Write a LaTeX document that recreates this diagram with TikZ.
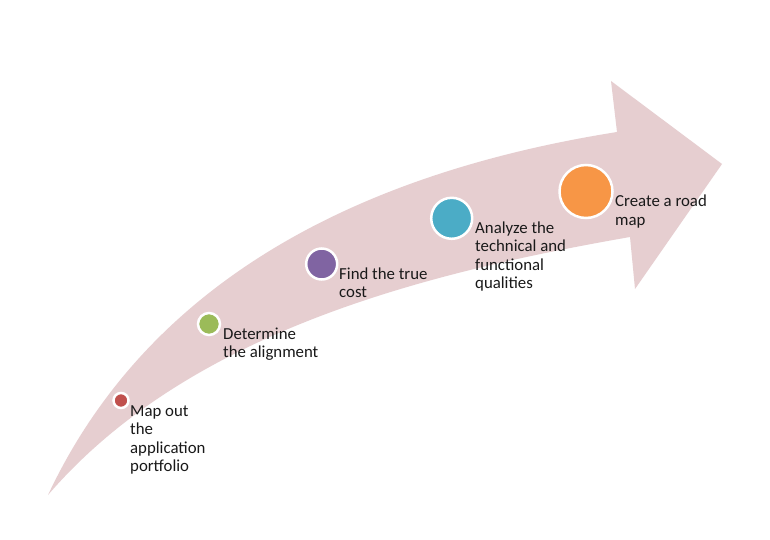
\documentclass[tikz,border=0pt]{standalone}
\usepackage{fontspec}
\setmainfont{Carlito}
\begin{document}
\begin{tikzpicture}[x=1pt,y=-1pt,
  dot/.style={circle,draw=white,line width=2.5pt,inner sep=0pt},
  lbl/.style={anchor=base west,align=left,inner sep=0pt,text=black!90,
    font=\fontsize{16.8}{18.5}\selectfont}]
\definecolor{arrowpink}{RGB}{230,206,208}
\definecolor{cred}{RGB}{192,80,77}
\definecolor{cgreen}{RGB}{155,187,89}
\definecolor{cpurple}{RGB}{128,100,162}
\definecolor{cblue}{RGB}{75,172,198}
\definecolor{corange}{RGB}{247,150,70}
\useasboundingbox (0,0) rectangle (770,540);
\fill[white] (0,0) rectangle (770,540);
% curved arrow
\fill[arrowpink] (48,495) .. controls (135,310) and (315,180) .. (617,132)
  -- (611,81) -- (722,164) -- (635,289) -- (630,237)
  .. controls (430,272) and (190,330) .. (48,495) -- cycle;
% step dots
\node[dot,fill=cred,minimum size=15pt] (d1) at (121,400.5) {};
\node[dot,fill=cgreen,minimum size=22pt] (d2) at (209,324) {};
\node[dot,fill=cpurple,minimum size=31pt] (d3) at (321.7,264) {};
\node[dot,fill=cblue,minimum size=41pt] (d4) at (451.7,218.3) {};
\node[dot,fill=corange,minimum size=53pt] (d5) at (586,191.5) {};
% labels (anchor at the baseline of the last line)
\node[lbl] (t1) at (130,471.5) {Map out\\the\\application\\portfolio};
\node[lbl] (t2) at (223,357.5) {Determine\\the alignment};
\node[lbl] (t3) at (339,297.5) {Find the true\\cost};
\node[lbl] (t4) at (475,288.5) {Analyze the\\technical and\\functional\\qualities};
\node[lbl] (t5) at (615,225) {Create a road\\map};
\end{tikzpicture}
\end{document}
